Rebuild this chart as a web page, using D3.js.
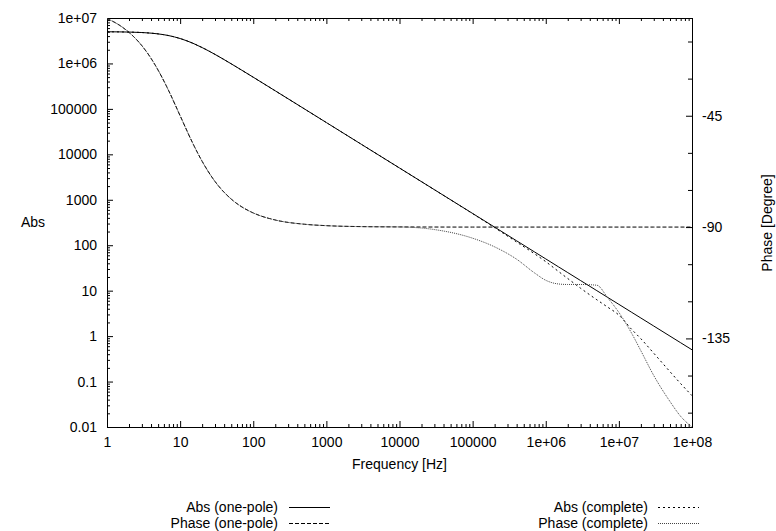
<!DOCTYPE html>
<html>
<head>
<meta charset="utf-8">
<script src="https://cdn.jsdelivr.net/npm/d3@7"></script>
<style>
  body { margin: 0; background: #fff; }
  svg text { font-family: "Liberation Sans", Arial, sans-serif; font-size: 14px; fill: #000; }
  .axis path.domain { display: none; }
  .axis line { stroke: #000; }
</style>
</head>
<body>
<div id="chart-area"></div>
<script>

// values
var freqs = [1, 1.5, 2, 3, 4, 5, 7, 10, 15, 20, 30, 50, 70, 100, 200, 500, 1e3, 3e3, 1e4, 3e4,
    1e5, 2e5, 4e5, 7e5, 1e6, 1.5e6, 2e6, 3e6, 5e6, 7e6, 1e7, 1.5e7, 2e7, 3e7, 5e7, 7e7, 1e8];

var absOnePole = [4.975e6, 4.945e6, 4.903e6, 4.789e6, 4.642e6, 4.472e6, 4.096e6, 3.536e6, 2.774e6, 2.236e6,
    1.581e6, 9.806e5, 7.071e5, 4.975e5, 2.497e5, 1.0e5, 5.0e4, 1.667e4, 5000, 1667,
    500, 250, 125, 71.4, 50, 33.3, 25, 16.67, 10, 7.14, 5, 3.33, 2.5, 1.667, 1, 0.714, 0.5];

var phaseOnePole = [-5.71, -8.53, -11.31, -16.70, -21.80, -26.57, -34.99, -45.00, -56.31, -63.43,
    -71.57, -78.69, -81.87, -84.29, -87.14, -88.85, -89.43, -89.81, -89.94, -89.98,
    -90, -90, -90, -90, -90, -90, -90, -90, -90, -90, -90, -90, -90, -90, -90, -90, -90];

var absComplete = [4.975e6, 4.945e6, 4.903e6, 4.789e6, 4.642e6, 4.472e6, 4.096e6, 3.536e6, 2.774e6, 2.236e6,
    1.581e6, 9.806e5, 7.071e5, 4.975e5, 2.497e5, 1.0e5, 5.0e4, 1.667e4, 5000, 1667,
    495, 243, 117.5, 65, 43.5, 26.3, 18.5, 11.3, 6.3, 4.36, 2.9, 1.4, 0.875, 0.42, 0.165, 0.09, 0.049];

var phaseComplete = [-5.71, -8.53, -11.31, -16.70, -21.80, -26.57, -34.99, -45.00, -56.31, -63.43,
    -71.57, -78.69, -81.87, -84.29, -87.14, -88.85, -89.43, -89.81, -89.94, -91.0,
    -94.5, -98.0, -103.0, -108.5, -111.5, -113.0, -113.2, -113.2, -113.5, -118.5,
    -124.5, -133.0, -140.0, -150.0, -160.5, -166.5, -170.8];

var xTicks = [1, 10, 100, 1000, 1e4, 1e5, 1e6, 1e7, 1e8];
var xTickLabels = ["1", "10", "100", "1000", "10000", "100000", "1e+06", "1e+07", "1e+08"];
var yTicks = [0.01, 0.1, 1, 10, 100, 1000, 1e4, 1e5, 1e6, 1e7];
var yTickLabels = ["0.01", "0.1", "1", "10", "100", "1000", "10000", "100000", "1e+06", "1e+07"];
var y2Ticks = [-45, -90, -135];
var y2TickLabels = ["-45", "-90", "-135"];
var y2Minor = [-15, -30, -60, -75, -105, -120, -150, -165];

var seriesNames = ["Abs (one-pole)", "Phase (one-pole)", "Abs (complete)", "Phase (complete)"];

// Set up SVG
var margin = {top: 18, right: 84, bottom: 104, left: 107};
var width = 776 - margin.left - margin.right,
    height = 531 - margin.top - margin.bottom;

var svg = d3.select("#chart-area").append("svg")
    .attr("width", 776)
    .attr("height", 531);

var g = svg.append("g")
    .attr("transform", "translate(" + margin.left + "," + margin.top + ")");

var x = d3.scaleLog().domain([1, 1e8]).range([0, width]);
var y = d3.scaleLog().domain([0.01, 1e7]).range([height, 0]);
var y2 = d3.scaleLinear().domain([-170.8, -5.5]).range([height, 0]);

// minor log ticks 2..9 in every decade
function minorLog(lo, hi) {
    var out = [];
    for (var e = lo; e < hi; e++) {
        d3.range(2, 10).forEach(function(m) { out.push(m * Math.pow(10, e)); });
    }
    return out;
}

var xMinor = minorLog(0, 8);
var yMinor = minorLog(-2, 7);

// bottom + top
g.append("g").attr("class", "axis")
    .attr("transform", "translate(0," + height + ")")
    .call(d3.axisBottom(x).tickValues(xTicks).tickSize(-6).tickPadding(10)
        .tickFormat(function(d, i) { return xTickLabels[i]; }));
g.append("g").attr("class", "axis")
    .attr("transform", "translate(0," + height + ")")
    .call(d3.axisBottom(x).tickValues(xMinor).tickSize(-3).tickFormat(""));
g.append("g").attr("class", "axis")
    .call(d3.axisTop(x).tickValues(xTicks).tickSize(-6).tickFormat(""));
g.append("g").attr("class", "axis")
    .call(d3.axisTop(x).tickValues(xMinor).tickSize(-3).tickFormat(""));

// left (log)
g.append("g").attr("class", "axis")
    .call(d3.axisLeft(y).tickValues(yTicks).tickSize(-6).tickPadding(10)
        .tickFormat(function(d, i) { return yTickLabels[i]; }));
g.append("g").attr("class", "axis")
    .call(d3.axisLeft(y).tickValues(yMinor).tickSize(-3).tickFormat(""));

// right (phase)
g.append("g").attr("class", "axis")
    .attr("transform", "translate(" + width + ",0)")
    .call(d3.axisRight(y2).tickValues(y2Ticks).tickSize(-6).tickPadding(10)
        .tickFormat(function(d, i) { return y2TickLabels[i]; }));
g.append("g").attr("class", "axis")
    .attr("transform", "translate(" + width + ",0)")
    .call(d3.axisRight(y2).tickValues(y2Minor).tickSize(-4).tickFormat(""));

// frame
g.append("rect")
    .attr("x", 0.5).attr("y", 0.5)
    .attr("width", width).attr("height", height)
    .attr("fill", "none").attr("stroke", "#000");

g.append("clipPath").attr("id", "clip")
    .append("rect").attr("width", width + 1).attr("height", height + 1);

var styles = [
    {dash: null, stroke: "#000"},
    {dash: "4,2", stroke: "#000"},
    {dash: "2,3", stroke: "#000"},
    {dash: "1,1", stroke: "#444"}
];

var series = [
    {vals: absOnePole, scale: y},
    {vals: phaseOnePole, scale: y2},
    {vals: absComplete, scale: y},
    {vals: phaseComplete, scale: y2}
];

series.forEach(function(s, k) {
    var line = d3.line()
        .x(function(d, i) { return x(freqs[i]); })
        .y(function(d) { return s.scale(d); })
        .curve(d3.curveMonotoneX);
    g.append("path")
        .datum(s.vals)
        .attr("clip-path", "url(#clip)")
        .attr("fill", "none")
        .attr("stroke", styles[k].stroke)
        .attr("stroke-width", 1)
        .attr("stroke-dasharray", styles[k].dash)
        .attr("d", line);
});

// axis titles
svg.append("text")
    .attr("x", margin.left + width / 2).attr("y", 469)
    .attr("text-anchor", "middle")
    .text("Frequency [Hz]");

svg.append("text")
    .attr("x", 33).attr("y", 227)
    .attr("text-anchor", "middle")
    .text("Abs");

svg.append("text")
    .attr("transform", "translate(772,223) rotate(-90)")
    .attr("text-anchor", "middle")
    .text("Phase [Degree]");

// Legend
var legendPos = [
    {tx: 278, lx: 289, y: 507},
    {tx: 278, lx: 289, y: 523},
    {tx: 648, lx: 658, y: 507},
    {tx: 648, lx: 658, y: 523}
];

seriesNames.forEach(function(name, k) {
    var p = legendPos[k];
    svg.append("text")
        .attr("x", p.tx).attr("y", p.y + 5)
        .attr("text-anchor", "end")
        .text(name);
    svg.append("line")
        .attr("x1", p.lx).attr("x2", p.lx + 41)
        .attr("y1", p.y + 0.5).attr("y2", p.y + 0.5)
        .attr("stroke", styles[k].stroke)
        .attr("stroke-dasharray", styles[k].dash);
});

</script>
</body>
</html>
